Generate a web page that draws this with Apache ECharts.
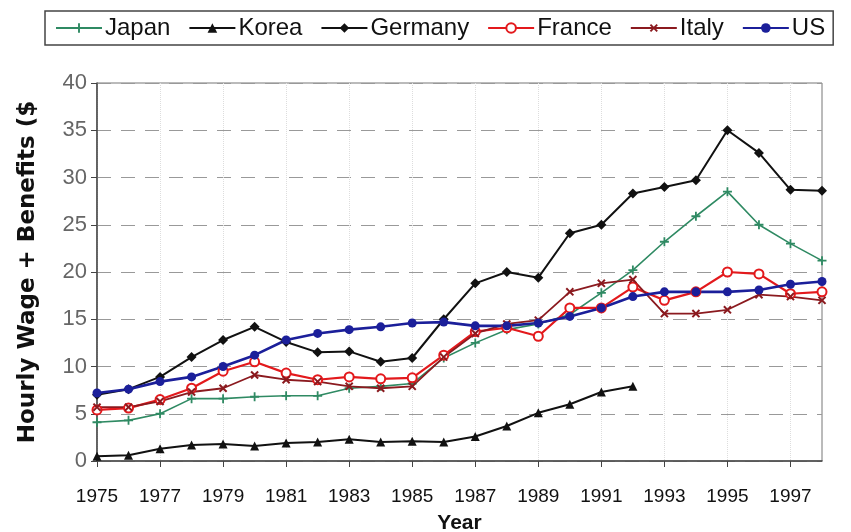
<!DOCTYPE html>
<html>
<head>
<meta charset="utf-8">
<script src="https://cdn.jsdelivr.net/npm/echarts@6/dist/echarts.min.js"></script>
<style>
  html, body { margin: 0; padding: 0; background: #fff; }
  #chart { width: 851px; height: 532px; }
</style>
</head>
<body>
<div id="chart"></div>
<script>
// hourly compensation, 1975-1998
const years = ['1975','1976','1977','1978','1979','1980','1981','1982','1983','1984','1985','1986',
               '1987','1988','1989','1990','1991','1992','1993','1994','1995','1996','1997','1998'];

const japan   = [4.1, 4.3, 5.0, 6.6, 6.6, 6.8, 6.9, 6.9, 7.7, 7.9, 8.2, 10.9,
                 12.5, 13.9, 14.5, 15.5, 17.8, 20.2, 23.2, 25.9, 28.5, 25.0, 23.0, 21.2];
const korea   = [0.5, 0.6, 1.3, 1.7, 1.8, 1.6, 1.9, 2.0, 2.3, 2.0, 2.1, 2.0,
                 2.6, 3.7, 5.1, 6.0, 7.3, 7.9, null, null, null, null, null, null];
const germany = [7.0, 7.6, 8.9, 11.0, 12.8, 14.2, 12.6, 11.5, 11.6, 10.5, 10.9, 15.0,
                 18.8, 20.0, 19.4, 24.1, 25.0, 28.3, 29.0, 29.7, 35.0, 32.6, 28.7, 28.6];
const france  = [5.4, 5.6, 6.5, 7.7, 9.5, 10.5, 9.3, 8.6, 8.9, 8.7, 8.8, 11.2,
                 13.7, 14.1, 13.2, 16.2, 16.2, 18.4, 17.0, 17.9, 20.0, 19.8, 17.7, 17.9];
const italy   = [5.7, 5.7, 6.3, 7.3, 7.7, 9.1, 8.6, 8.4, 7.9, 7.7, 7.9, 11.0,
                 13.5, 14.5, 14.9, 17.9, 18.8, 19.2, 15.6, 15.6, 16.0, 17.6, 17.4, 17.0];
const us      = [7.2, 7.6, 8.4, 8.9, 10.0, 11.2, 12.8, 13.5, 13.9, 14.2, 14.6, 14.7,
                 14.3, 14.3, 14.6, 15.3, 16.2, 17.4, 17.9, 17.9, 17.9, 18.1, 18.7, 19.0];

const plusPath = 'path://M4,0h2v4h4v2h-4v4h-2v-4h-4v-2h4z';

function mkSeries(name, data, color, symbol, size, width, extra) {
    return Object.assign({
        name: name,
        type: 'line',
        data: data,
        symbol: symbol,
        symbolSize: size,
        showAllSymbol: true,
        connectNulls: false,
        lineStyle: { color: color, width: width },
        itemStyle: { color: color },
        animation: false
    }, extra || {});
}

const chart = echarts.init(document.getElementById('chart'));

const option = {
    backgroundColor: '#fff',
    textStyle: { fontFamily: 'Liberation Sans, Arial, sans-serif' },
    legend: {
        left: 45,
        top: 11,
        padding: [5, 8, 5, 10],
        itemWidth: 46,
        itemHeight: 12,
        itemGap: 18,
        borderColor: '#444',
        borderWidth: 1.5,
        textStyle: { fontSize: 24, color: '#111', padding: [0, 0, 0, -2] },
        data: ['Japan', 'Korea', 'Germany', 'France', 'Italy', 'US']
    },
    grid: {
        left: 97, right: 29, top: 83, bottom: 71,
        outerBoundsMode: 'none',
        show: true, borderColor: '#777', borderWidth: 1
    },
    xAxis: {
        type: 'category',
        data: years,
        boundaryGap: false,
        name: 'Year',
        nameLocation: 'middle',
        nameGap: 52,
        nameTextStyle: { fontSize: 21, fontWeight: 'bold', color: '#111' },
        axisLine: { lineStyle: { color: '#444', width: 1.5 } },
        axisTick: { interval: 1, length: 6, lineStyle: { color: '#444' } },
        axisLabel: { interval: 1, fontSize: 19, color: '#111', margin: 26 },
        splitLine: { show: true, interval: 1, lineStyle: { color: '#ddd', type: 'dotted' } }
    },
    yAxis: {
        type: 'value',
        min: 0, max: 40, interval: 5,
        name: 'Hourly Wage + Benefits ($',
        nameLocation: 'middle',
        nameGap: 57,
        nameTextStyle: { fontSize: 23, fontWeight: 'bold', color: '#111', fontFamily: 'DejaVu Sans' },
        axisLine: { show: true, lineStyle: { color: '#444', width: 1.5 } },
        axisTick: { show: true, length: 6, lineStyle: { color: '#444' } },
        axisLabel: { fontSize: 22, color: '#666', margin: 10 },
        splitLine: { lineStyle: { color: '#999', type: [14, 10], width: 1 } }
    },
    series: [
        mkSeries('Japan', japan, '#2f8a63', plusPath, 9, 1.6),
        mkSeries('Korea', korea, '#111', 'triangle', 9, 2),
        mkSeries('Germany', germany, '#111', 'diamond', 10, 2),
        mkSeries('France', france, '#e3191c', 'emptyCircle', 9, 2.2,
                 { itemStyle: { color: '#e3191c', borderWidth: 1.5 } }),
        mkSeries('Italy', italy, '#8b1a1f', plusPath, 10, 1.8, { symbolRotate: 45 }),
        mkSeries('US', us, '#1b1f9a', 'circle', 9, 2.6)
    ]
};

chart.setOption(option);
</script>
</body>
</html>
